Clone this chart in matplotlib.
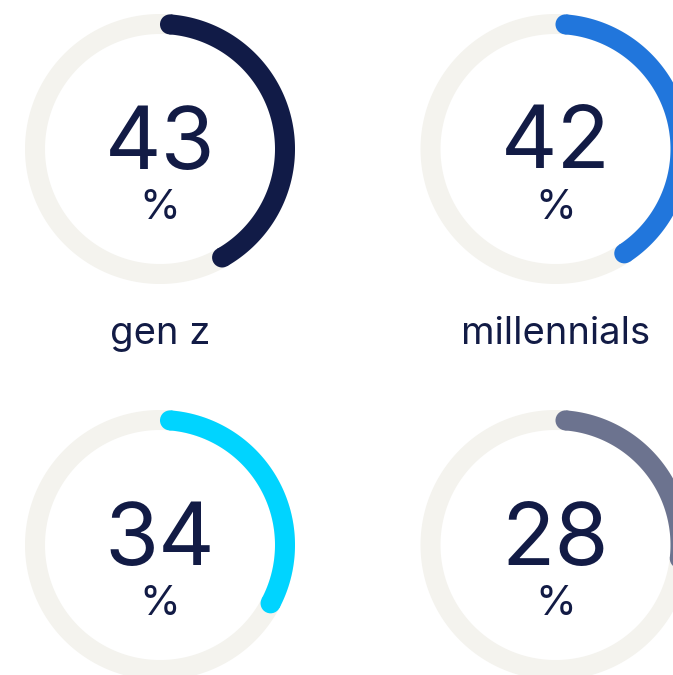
import numpy as np
import matplotlib
matplotlib.use("Agg")
import matplotlib.pyplot as plt
from matplotlib.patches import Polygon, Circle

# Data
groups = ["gen z", "millennials", "gen x", "boomers"]
values = [43, 42, 34, 28]
colors = ["#111b47", "#2176dc", "#00d4ff", "#6c738f"]
track_color = "#f4f3ee"
text_color = "#121b45"

W, H = 673, 675
fig = plt.figure(figsize=(W / 100, H / 100), dpi=100)
ax = fig.add_axes([0, 0, 1, 1])
ax.set_xlim(0, W)
ax.set_ylim(H, 0)
ax.set_aspect("equal")
ax.axis("off")

col_x = [160, 555.5]
row_y = [149, 545]
r = 125
band = 20
r_out = r + band / 2
r_in = r - band / 2
off = (band / 2) / r


def ring_poly(cx, cy, a0, a1, n=400):
    a = np.linspace(a0, a1, n)
    outer = np.column_stack([cx + r_out * np.sin(a), cy - r_out * np.cos(a)])
    inner = np.column_stack([cx + r_in * np.sin(a[::-1]), cy - r_in * np.cos(a[::-1])])
    return np.vstack([outer, inner])


for i, (name, val, c) in enumerate(zip(groups, values, colors)):
    cx = col_x[i % 2]
    cy = row_y[i // 2]
    ax.add_patch(Polygon(ring_poly(cx, cy, 0, 2 * np.pi), closed=True,
                         facecolor=track_color, edgecolor="none", zorder=1))
    a0 = off
    a1 = 2 * np.pi * val / 100 - off
    ax.add_patch(Polygon(ring_poly(cx, cy, a0, a1), closed=True,
                         facecolor=c, edgecolor="none", zorder=2))
    for a in (a0, a1):
        ax.add_patch(Circle((cx + r * np.sin(a), cy - r * np.cos(a)), band / 2,
                            facecolor=c, edgecolor="none", zorder=2))
    ax.text(cx, cy - 3, str(val), ha="center", va="center", fontsize=63,
            family="Inter", color=text_color, zorder=3)
    ax.text(cx, cy + 59, "%", ha="center", va="center", fontsize=30,
            family="Inter", color=text_color, zorder=3)
    ly = cy + 185
    if ly < H:
        ax.text(cx, ly, name, ha="center", va="center", fontsize=27.5,
                family="Inter", color=text_color, zorder=3)

fig.savefig("out.png", dpi=100, facecolor="white")
